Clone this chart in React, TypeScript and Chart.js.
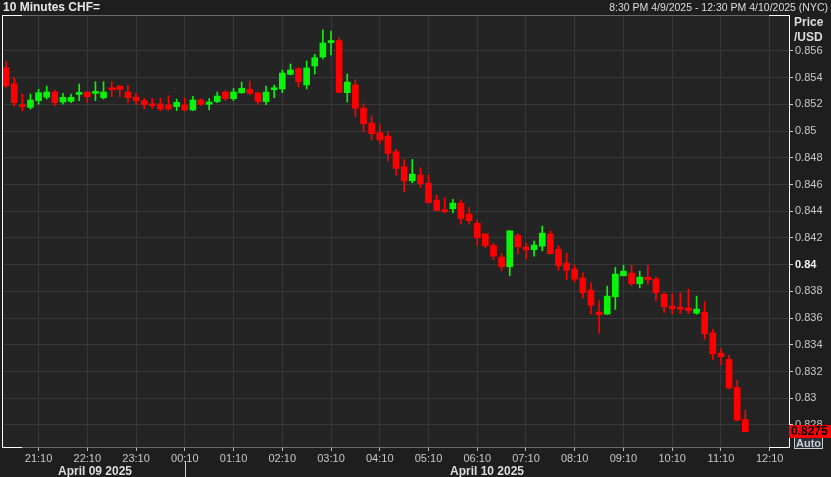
import React, { useEffect, useRef } from 'react';
import { Chart, registerables } from 'chart.js';

Chart.register(...registerables);

// ---- data ----
const START_TIME = '20:30';
const INTERVAL_MIN = 10;
const X_MIN_INDEX = -0.5;
const X_MAX_INDEX = 96.5;

const xTickLabels = [
  '21:10', '22:10', '23:10', '00:10', '01:10', '02:10', '03:10', '04:10',
  '05:10', '06:10', '07:10', '08:10', '09:10', '10:10', '11:10', '12:10',
];

const yTickValues = [
  0.828, 0.83, 0.832, 0.834, 0.836, 0.838, 0.84, 0.842,
  0.844, 0.846, 0.848, 0.85, 0.852, 0.854, 0.856,
];
const boldTick = 0.84;
const Y_MIN = 0.826278;
const Y_MAX = 0.858695;

const opens = [
  0.85475, 0.85355, 0.85188, 0.85178, 0.85228, 0.85253, 0.85293, 0.85218, 0.85223, 0.85275,
  0.85293, 0.85283, 0.8525, 0.85315, 0.85338, 0.85293, 0.85255, 0.85228, 0.85205, 0.85203,
  0.85196, 0.85183, 0.85196, 0.85158, 0.85233, 0.85201, 0.85221, 0.85293, 0.85243, 0.85288,
  0.85313, 0.85286, 0.85221, 0.8531,
  0.85316, 0.85425, 0.85468, 0.85346, 0.85488, 0.85555, 0.85663, 0.85678, 0.85288, 0.85346,
  0.85173, 0.85061, 0.84988, 0.84963, 0.84846, 0.84733, 0.84628, 0.84671, 0.84611, 0.84484,
  0.84409, 0.84419, 0.84461, 0.84379, 0.84311, 0.84231, 0.84144, 0.84057, 0.83984, 0.84219,
  0.84132, 0.84112, 0.84139, 0.84229, 0.84116, 0.84012, 0.83967, 0.839, 0.8381, 0.83645,
  0.8363, 0.8376, 0.83917, 0.83937, 0.83857, 0.83907, 0.83892, 0.8378, 0.8369, 0.83677,
  0.83677, 0.83637, 0.83645, 0.8349, 0.83338, 0.83291, 0.83081, 0.82841,
];

const highs = [
  0.8552, 0.854, 0.85278, 0.85278, 0.85313, 0.85338, 0.85305, 0.85283, 0.85278, 0.85353,
  0.85293, 0.8537, 0.8537, 0.8537, 0.85338, 0.85343, 0.85283, 0.85245, 0.85245, 0.85245,
  0.85265, 0.8524, 0.85248, 0.8526, 0.85243, 0.85243, 0.85293, 0.85303, 0.8532, 0.85368,
  0.85375, 0.85293, 0.85338, 0.85345,
  0.85458, 0.85503, 0.85475, 0.85525, 0.85575, 0.85758, 0.8575, 0.857, 0.85428, 0.85383,
  0.85203, 0.85116, 0.85051, 0.84996, 0.84866, 0.84788, 0.84788, 0.84726, 0.84671, 0.84521,
  0.84501, 0.84489, 0.84484, 0.84429, 0.84334, 0.84231, 0.84159, 0.84084, 0.84254, 0.84234,
  0.84161, 0.84176, 0.84289, 0.84251, 0.84144, 0.84087, 0.83997, 0.8394, 0.83865, 0.8373,
  0.8384, 0.8398, 0.83997, 0.83997, 0.83952, 0.83997, 0.8391, 0.8379, 0.83782, 0.8379,
  0.83817, 0.83765, 0.83722, 0.83515, 0.83373, 0.83321, 0.83136, 0.82911,
];

const lows = [
  0.85328, 0.85188, 0.85151, 0.85165, 0.85201, 0.8524, 0.85188, 0.85201, 0.85213, 0.85228,
  0.85213, 0.85228, 0.8524, 0.85258, 0.85258, 0.85213, 0.85198, 0.85168, 0.8517, 0.85153,
  0.85158, 0.85153, 0.85153, 0.85153, 0.8519, 0.85158, 0.85213, 0.85228, 0.85228, 0.85283,
  0.85273, 0.85198, 0.85198, 0.8525,
  0.85288, 0.8542, 0.85331, 0.85316, 0.85428, 0.8554, 0.8557, 0.85288, 0.85218, 0.85108,
  0.84996, 0.84934, 0.84904, 0.84776, 0.84671, 0.84546, 0.84613, 0.84578, 0.84464, 0.84406,
  0.84389, 0.84389, 0.84306, 0.84306, 0.84142, 0.84129, 0.84037, 0.83954, 0.83917, 0.84079,
  0.84042, 0.84064, 0.84104, 0.84082, 0.83959, 0.83887, 0.83872, 0.83752, 0.83632, 0.83488,
  0.83628, 0.83665, 0.83917, 0.83842, 0.83827, 0.83855, 0.8373, 0.83642, 0.83632, 0.83635,
  0.83635, 0.83628, 0.83443, 0.83291, 0.83251, 0.83071, 0.82831, 0.82749,
];

const closes = [
  0.8534, 0.85213, 0.85183, 0.85233, 0.85288, 0.85293, 0.85213, 0.85253, 0.85253, 0.85288,
  0.85258, 0.85293, 0.85293, 0.8531, 0.85313, 0.8525, 0.85228, 0.85198, 0.8519, 0.85165,
  0.85165, 0.85216, 0.85158, 0.85233, 0.85201, 0.85218, 0.85263, 0.85243, 0.85293, 0.8532,
  0.85283, 0.85221, 0.85293, 0.85323,
  0.85435, 0.85458, 0.85371, 0.85473, 0.8555, 0.8566, 0.85678, 0.8529, 0.85368, 0.85171,
  0.85056, 0.84981, 0.84934, 0.84833, 0.84721, 0.84628, 0.84678, 0.84608, 0.84464, 0.84406,
  0.84396, 0.84461, 0.84344, 0.84329, 0.84201, 0.84142, 0.84064, 0.83984, 0.84254, 0.84134,
  0.84112, 0.84147, 0.84236, 0.84082, 0.83992, 0.83959, 0.83892, 0.8379, 0.83697, 0.83625,
  0.83765, 0.8393, 0.83952, 0.83857, 0.83907, 0.83887, 0.8379, 0.83685, 0.8367, 0.83667,
  0.83655, 0.83667, 0.83483, 0.83333, 0.83311, 0.83078, 0.82836, 0.8275,
];

const lastPriceLabel = '0.8275';
const titleLeft = '10 Minutes CHF=';
const titleRight = '8:30 PM 4/9/2025 - 12:30 PM 4/10/2025 (NYC)';
const axisTitle = ['Price', '/USD'];
const dateLabels = ['April 09 2025', 'April 10 2025'];

// ---- helpers ----
const UP = '#0bf20b';
const DOWN = '#ff0000';
const FONT = "'Liberation Sans', Arial, sans-serif";

function minutesOf(t: string) {
  const [h, m] = t.split(':').map(Number);
  return h * 60 + m;
}
function indexOfTime(t: string) {
  let d = minutesOf(t) - minutesOf(START_TIME);
  if (d < 0) d += 1440;
  return d / INTERVAL_MIN;
}
function labelForIndex(v: number) {
  const found = xTickLabels.find((l) => Math.abs(indexOfTime(l) - v) < 1e-6);
  return found ?? '';
}

const framePlugin = {
  id: 'frame',
  beforeDraw(chart: any) {
    const { ctx, chartArea } = chart;
    const { left, top, right, bottom } = chartArea;
    ctx.save();
    ctx.fillStyle = '#1e1e1e';
    ctx.fillRect(0, 0, chart.width, chart.height);
    ctx.fillStyle = '#232423';
    ctx.fillRect(left, top, right - left, bottom - top);
    ctx.restore();
  },
  afterDraw(chart: any) {
    const { ctx, chartArea } = chart;
    const { left, top, right, bottom } = chartArea;
    ctx.save();
    ctx.strokeStyle = '#6a6a6a';
    ctx.lineWidth = 1;
    ctx.beginPath();
    ctx.moveTo(left, top + 0.5);
    ctx.lineTo(right, top + 0.5);
    ctx.moveTo(left, bottom - 0.5);
    ctx.lineTo(right, bottom - 0.5);
    ctx.stroke();
    ctx.strokeStyle = '#ffffff';
    ctx.beginPath();
    ctx.moveTo(left + 0.5, top);
    ctx.lineTo(left + 0.5, bottom);
    ctx.moveTo(right - 0.5, top);
    ctx.lineTo(right - 0.5, bottom);
    ctx.moveTo(left, top + 0.5);
    ctx.lineTo(left + 20, top + 0.5);
    ctx.moveTo(right - 21, top + 0.5);
    ctx.lineTo(right, top + 0.5);
    ctx.moveTo(left, bottom - 0.5);
    ctx.lineTo(left + 20, bottom - 0.5);
    ctx.moveTo(right - 21, bottom - 0.5);
    ctx.lineTo(right, bottom - 0.5);
    ctx.stroke();

    ctx.fillStyle = '#2b3038';
    ctx.fillRect(right + 4, bottom - 11, 29, 12);
    ctx.strokeStyle = '#c9ccd2';
    ctx.strokeRect(right + 4.5, bottom - 10.5, 28, 11);
    ctx.fillStyle = '#c9d0da';
    ctx.font = `bold 11px ${FONT}`;
    ctx.textBaseline = 'middle';
    ctx.textAlign = 'left';
    ctx.fillText('Auto', right + 6, bottom - 4.5);

    const y = chart.scales.y.getPixelForValue(closes[closes.length - 1]);
    ctx.fillStyle = '#ff0000';
    ctx.fillRect(right - 1, Math.round(y) - 7, chart.width - right + 1, 13);
    ctx.fillStyle = '#000000';
    ctx.font = `bold 12px ${FONT}`;
    ctx.fillText(lastPriceLabel, right + 1, Math.round(y) - 0.5);
    ctx.restore();
  },
};

export default function App() {
  const canvasRef = useRef<HTMLCanvasElement | null>(null);

  useEffect(() => {
    const canvas = canvasRef.current;
    if (!canvas) return;
    const colors = opens.map((o, i) => (closes[i] >= o ? UP : DOWN));
    const chart = new Chart(canvas, {
      type: 'bar',
      data: {
        datasets: [
          {
            label: 'body',
            data: opens.map((o, i) => ({ x: i, y: [o, closes[i]] })) as any,
            backgroundColor: colors,
            borderWidth: 0,
            barThickness: 6,
            minBarLength: 2,
            grouped: false,
          } as any,
          {
            label: 'wick',
            data: lows.map((l, i) => ({ x: i, y: [l, highs[i]] })) as any,
            backgroundColor: colors,
            borderWidth: 0,
            barThickness: 1,
            grouped: false,
          } as any,
        ],
      },
      options: {
        animation: false,
        responsive: false,
        maintainAspectRatio: false,
        layout: { padding: { left: 2, top: 15, right: 0, bottom: 0 } },
        plugins: {
          legend: { display: false },
          tooltip: { enabled: false },
          title: { display: false },
        },
        scales: {
          x: {
            type: 'linear',
            offset: false,
            min: X_MIN_INDEX,
            max: X_MAX_INDEX,
            afterBuildTicks: (s: any) => {
              s.ticks = xTickLabels.map((l) => ({ value: indexOfTime(l) }));
            },
            afterFit: (s: any) => {
              s.height = 29;
            },
            ticks: {
              autoSkip: false,
              maxRotation: 0,
              minRotation: 0,
              padding: 1,
              color: '#c8c8c8',
              font: { family: FONT, size: 11 },
              callback: (v: any) => labelForIndex(Number(v)),
            },
            grid: {
              color: '#363736',
              tickColor: '#bdbdbd',
              tickLength: 3,
              offset: false,
              drawTicks: true,
            },
            border: { display: false },
          } as any,
          y: {
            type: 'linear',
            position: 'right',
            min: Y_MIN,
            max: Y_MAX,
            afterBuildTicks: (s: any) => {
              s.ticks = yTickValues.map((v) => ({ value: v }));
            },
            afterFit: (s: any) => {
              s.width = 41;
            },
            ticks: {
              padding: 2,
              color: (c: any) => (c.tick && c.tick.value === boldTick ? '#f0f0f0' : '#c8c8c8'),
              font: (c: any) => ({
                family: FONT,
                size: 11,
                weight: c.tick && c.tick.value === boldTick ? 'bold' : 'normal',
              }),
              callback: (v: any) => String(Number(Number(v).toFixed(3))),
            },
            grid: {
              color: '#363736',
              tickColor: '#cfcfcf',
              tickLength: 3,
              drawTicks: true,
            },
            border: { display: false },
          } as any,
        },
      },
      plugins: [framePlugin],
    });
    return () => chart.destroy();
  }, []);

  const textBase: React.CSSProperties = {
    position: 'absolute',
    fontFamily: FONT,
    whiteSpace: 'nowrap',
    margin: 0,
  };

  return (
    <div
      style={{
        position: 'fixed',
        left: 0,
        top: 0,
        width: 831,
        height: 477,
        background: '#1e1e1e',
        overflow: 'hidden',
      }}
    >
      <canvas
        ref={canvasRef}
        width={831}
        height={477}
        style={{ position: 'absolute', left: 0, top: 0, width: 831, height: 477 }}
      />
      <div style={{ ...textBase, left: 3, top: 0, lineHeight: '14px', fontSize: 12, fontWeight: 'bold', color: '#e6e6e6' }}>
        {titleLeft}
      </div>
      <div style={{ ...textBase, right: 3, top: 0, lineHeight: '14px', fontSize: 10.5, color: '#dcdcdc' }}>
        {titleRight}
      </div>
      <div style={{ ...textBase, left: 794, top: 15, lineHeight: '14px', fontSize: 12, fontWeight: 'bold', color: '#dcdcdc' }}>
        {axisTitle[0]}
      </div>
      <div style={{ ...textBase, left: 794, top: 30, lineHeight: '14px', fontSize: 12, fontWeight: 'bold', color: '#dcdcdc' }}>
        {axisTitle[1]}
      </div>
      <div style={{ ...textBase, left: 35, width: 120, textAlign: 'center', top: 464, lineHeight: '14px', fontSize: 12, fontWeight: 'bold', color: '#dcdcdc' }}>
        {dateLabels[0]}
      </div>
      <div style={{ ...textBase, left: 427, width: 120, textAlign: 'center', top: 464, lineHeight: '14px', fontSize: 12, fontWeight: 'bold', color: '#dcdcdc' }}>
        {dateLabels[1]}
      </div>
      <div style={{ position: 'absolute', left: 185, top: 461, width: 1, height: 16, background: '#d0d0d0' }} />
    </div>
  );
}
